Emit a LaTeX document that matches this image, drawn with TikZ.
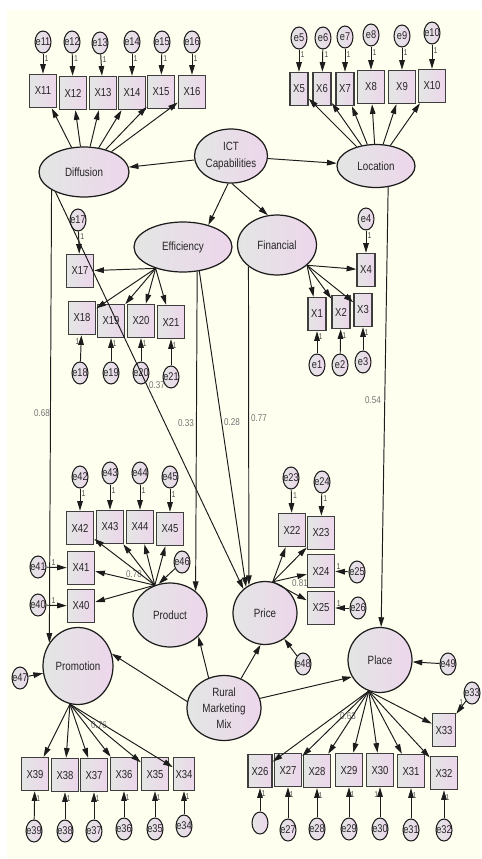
\documentclass[tikz,border=0pt]{standalone}
\usepackage{fontspec}
\setmainfont{Liberation Sans}[FakeStretch=0.82]
\usetikzlibrary{arrows.meta,shapes.geometric}
\definecolor{amosbg}{HTML}{FFFFF0}
\definecolor{amosL}{HTML}{E3E6E3}
\definecolor{amosR}{HTML}{EDD6EC}
\definecolor{amosln}{HTML}{1C1C1C}
\tikzstyle{lat}=[ellipse,draw=amosln,line width=0.7pt,left color=amosL,right color=amosR,inner sep=0pt,align=center,text=black!85,font=\fontsize{6.8}{9.2}\selectfont]
\tikzstyle{obs}=[rectangle,draw=amosln!85,line width=0.85pt,left color=amosL,right color=amosR,inner sep=0pt,minimum width=0.54cm,minimum height=0.66cm,text=black!85,font=\fontsize{6.6}{7}\selectfont]
\tikzstyle{nobs}=[obs,minimum width=0.36cm]
\tikzstyle{err}=[ellipse,draw=amosln,line width=0.6pt,left color=amosL,right color=amosR,inner xsep=-3pt,inner ysep=-1pt,minimum width=0.32cm,minimum height=0.44cm,text=black!85,font=\fontsize{6.4}{6.4}\selectfont]
\tikzstyle{reg}=[draw=amosln,line width=0.55pt,-{Triangle[length=5.5pt,width=3.2pt]}]
\tikzstyle{one}=[text=black!70,inner sep=0.7pt,font=\fontsize{4.8}{5}\selectfont]
\tikzstyle{coef}=[text=black!55,inner sep=0pt,font=\fontsize{5.6}{6}\selectfont]

\begin{document}
\begin{tikzpicture}[x=0.02cm,y=-0.02cm]
\useasboundingbox (0,0) rectangle (481,859);
\fill[white] (0,0) rectangle (481,859);
\fill[amosbg] (7,10) rectangle (481,859);

%coefficients
\node[coef] (c68) at (42,413) {0.68};
\node[coef] (c37) at (157,385) {0.37};
\node[coef] (c33) at (186,423) {0.33};
\node[coef] (c28) at (232,422) {0.28};
\node[coef] (c77) at (259,418) {0.77};
\node[coef] (c54) at (373,400) {0.54};
\node[coef] (c78) at (134,574) {0.78};
\node[coef] (c81) at (300,583) {0.81};
\node[coef] (c76) at (99,725) {0.76};
\node[coef] (c63) at (348,716) {0.63};

%latents
\node[lat,minimum width=1.8cm,minimum height=1cm] (Dif) at (84,172) {Diffusion};
\node[lat,minimum width=1.46cm,minimum height=1.08cm] (ICT) at (231,156) {ICT\\Capabilities};
\node[lat,minimum width=1.56cm,minimum height=0.86cm] (Loc) at (376,166) {Location};
\node[lat,minimum width=1.96cm,minimum height=1cm] (Eff) at (183,247) {Efficiency};
\node[lat,minimum width=1.58cm,minimum height=1.2cm] (Fin) at (277,245) {Financial};
\node[lat,minimum width=1.48cm,minimum height=1.28cm] (Prod) at (170,615) {Product};
\node[lat,minimum width=1.28cm,minimum height=1.26cm] (Pri) at (265,613) {Price};
\node[lat,minimum width=1.4cm,minimum height=1.54cm] (Prom) at (78,666) {Promotion};
\node[lat,minimum width=1.28cm,minimum height=1.3cm] (Pla) at (380,660) {Place};
\node[lat,minimum width=1.48cm,minimum height=1.3cm] (RMM) at (224,708) {Rural\\Marketing\\Mix};

%Diffusion indicators
\node[obs] (X11) at (43,91) {X11};
\node[obs] (X12) at (73,93) {X12};
\node[obs] (X13) at (103,93) {X13};
\node[obs] (X14) at (132,93) {X14};
\node[obs] (X15) at (161,92) {X15};
\node[obs] (X16) at (192,92) {X16};
\node[err] (E11) at (43,42) {e11};
\node[err] (E12) at (72,42) {e12};
\node[err] (E13) at (100,43) {e13};
\node[err] (E14) at (132,42) {e14};
\node[err] (E15) at (162,42) {e15};
\node[err] (E16) at (192,42) {e16};

%Location indicators
\node[nobs] (X5) at (299,89) {X5};
\node[nobs] (X6) at (322,89) {X6};
\node[nobs] (X7) at (345,89) {X7};
\node[obs] (X8) at (371,87) {X8};
\node[obs] (X9) at (402,87) {X9};
\node[obs] (X10) at (432,86) {X10};
\node[err] (E5) at (299,38) {e5};
\node[err] (E6) at (323,38) {e6};
\node[err] (E7) at (345,37) {e7};
\node[err] (E8) at (371,35) {e8};
\node[err] (E9) at (402,36) {e9};
\node[err] (E10) at (432,33) {e10};

%Efficiency indicators
\node[obs] (X17) at (80,271) {X17};
\node[obs] (X18) at (82,318) {X18};
\node[obs] (X19) at (111,321) {X19};
\node[obs] (X20) at (141,321) {X20};
\node[obs] (X21) at (171,322) {X21};
\node[err] (E17) at (78,220) {e17};
\node[err] (E18) at (80,373) {e18};
\node[err] (E19) at (111,373) {e19};
\node[err] (E20) at (141,373) {e20};
\node[err] (E21) at (171,377) {e21};

%Financial indicators
\node[nobs] (X4) at (366,270) {X4};
\node[nobs] (X1) at (317,314) {X1};
\node[nobs] (X2) at (341,312) {X2};
\node[nobs] (X3) at (363,310) {X3};
\node[err] (E4) at (366,219) {e4};
\node[err] (E1) at (317,365) {e1};
\node[err] (E2) at (340,365) {e2};
\node[err] (E3) at (363,362) {e3};

%Product indicators
\node[obs] (X42) at (80,528) {X42};
\node[obs] (X43) at (110,527) {X43};
\node[obs] (X44) at (140,527) {X44};
\node[obs] (X45) at (170,529) {X45};
\node[obs] (X41) at (81,568) {X41};
\node[obs] (X40) at (81,606) {X40};
\node[err] (E42) at (80,477) {e42};
\node[err] (E43) at (110,473) {e43};
\node[err] (E44) at (140,473) {e44};
\node[err] (E45) at (170,477) {e45};
\node[err] (E41) at (38,567) {e41};
\node[err] (E40) at (38,605) {e40};
\node[err] (E46) at (182,562) {e46};

%Price indicators
\node[obs] (X22) at (292,530) {X22};
\node[obs] (X23) at (321,533) {X23};
\node[obs] (X24) at (321,571) {X24};
\node[obs] (X25) at (321,608) {X25};
\node[err] (E23) at (291,478) {e23};
\node[err] (E24) at (322,482) {e24};
\node[err] (E25) at (357,572) {e25};
\node[err] (E26) at (358,608) {e26};
\node[err] (E48) at (303,664) {e48};

%Promotion indicators
\node[obs] (X39) at (35,774) {X39};
\node[obs] (X38) at (65,775) {X38};
\node[obs] (X37) at (94,775) {X37};
\node[obs] (X36) at (124,774) {X36};
\node[obs] (X35) at (155,774) {X35};
\node[obs,minimum width=0.42cm] (X34) at (184,774) {X34};
\node[err] (E39) at (34,831) {e39};
\node[err] (E38) at (65,831) {e38};
\node[err] (E37) at (94,831) {e37};
\node[err] (E36) at (124,829) {e36};
\node[err] (E35) at (155,829) {e35};
\node[err] (E34) at (184,826) {e34};
\node[err] (E47) at (20,678) {e47};

%Place indicators
\node[obs,minimum width=0.48cm] (X26) at (260,771) {X26};
\node[obs] (X27) at (288,770) {X27};
\node[obs] (X28) at (317,771) {X28};
\node[obs] (X29) at (349,770) {X29};
\node[obs] (X30) at (380,770) {X30};
\node[obs] (X31) at (411,771) {X31};
\node[obs] (X32) at (444,773) {X32};
\node[obs,minimum width=0.46cm] (X33) at (444,730) {X33};
\node[err] (E0) at (260,823) {};
\node[err] (E27) at (288,830) {e27};
\node[err] (E28) at (317,829) {e28};
\node[err] (E29) at (349,829) {e29};
\node[err] (E30) at (380,829) {e30};
\node[err] (E31) at (411,830) {e31};
\node[err] (E32) at (444,830) {e32};
\node[err] (E33) at (472,693) {e33};
\node[err] (E49) at (448,664) {e49};

%structural paths
\draw[reg] (ICT) -- (Dif);
\draw[reg] (ICT) -- (Loc);
\draw[reg] (ICT.264) -- (Eff.41);
\draw[reg] (ICT.272) -- (Fin.107);
\draw[reg] (Dif.209) -- (Prom.141);
\draw[reg] (Dif.215) -- (Pri.132);
\draw[reg] (Eff.300) -- (Prod.43);
\draw[reg] (Eff.304) -- (Pri.126);
\draw[reg] (Fin.217) -- (Pri.120);
\draw[reg] (Loc.300) -- (Pla.88);
\draw[reg] (RMM.170) -- (Prom.20);
\draw[reg] (RMM.117) -- (Prod.323);
\draw[reg] (RMM.60) -- (Pri.262);
\draw[reg] (RMM.15) -- (Pla.211);
\draw[reg] (E47) -- (Prom);
\draw[reg] (E46) -- (Prod.110);
\draw[reg] (E48) -- (Pri);
\draw[reg] (E49) -- (Pla);

%loadings
\draw[reg] (Dif) -- (X11);
\draw[reg] (Dif) -- (X12);
\draw[reg] (Dif) -- (X13);
\draw[reg] (Dif) -- (X14);
\draw[reg] (Dif) -- (X15);
\draw[reg] (Dif) -- (X16);
\draw[reg] (Loc) -- (X5);
\draw[reg] (Loc) -- (X6);
\draw[reg] (Loc) -- (X7);
\draw[reg] (Loc) -- (X8);
\draw[reg] (Loc) -- (X9);
\draw[reg] (Loc) -- (X10);
\draw[reg] (Eff.218) -- (X17);
\draw[reg] (Eff.218) -- (X18);
\draw[reg] (Eff.218) -- (X19);
\draw[reg] (Eff.218) -- (X20);
\draw[reg] (Eff.218) -- (X21);
\draw[reg] (Fin.326) -- (X4);
\draw[reg] (Fin.326) -- (X1);
\draw[reg] (Fin.326) -- (X2);
\draw[reg] (Fin.326) -- (X3);
\draw[reg] (Prod.117) -- (X42);
\draw[reg] (Prod.117) -- (X43);
\draw[reg] (Prod.117) -- (X44);
\draw[reg] (Prod.117) -- (X45);
\draw[reg] (Prod.117) -- (X41);
\draw[reg] (Prod.117) -- (X40);
\draw[reg] (Pri.76) -- (X22);
\draw[reg] (Pri.76) -- (X23);
\draw[reg] (Pri.76) -- (X24);
\draw[reg] (Pri.76) -- (X25);
\draw[reg] (Prom.258) -- (X39);
\draw[reg] (Prom.258) -- (X38);
\draw[reg] (Prom.258) -- (X37);
\draw[reg] (Prom.258) -- (X36);
\draw[reg] (Prom.258) -- (X35);
\draw[reg] (Prom.258) -- (X34);
\draw[reg] (Pla.250) -- (X26);
\draw[reg] (Pla.250) -- (X27);
\draw[reg] (Pla.250) -- (X28);
\draw[reg] (Pla.250) -- (X29);
\draw[reg] (Pla.250) -- (X30);
\draw[reg] (Pla.250) -- (X31);
\draw[reg] (Pla.250) -- (X32);
\draw[reg] (Pla.250) -- (X33);

%errors, top
\draw[reg] (E11) -- node[one,pos=0.25,right]{1} (X11);
\draw[reg] (E12) -- node[one,pos=0.25,right]{1} (X12);
\draw[reg] (E13) -- node[one,pos=0.25,right]{1} (X13);
\draw[reg] (E14) -- node[one,pos=0.25,right]{1} (X14);
\draw[reg] (E15) -- node[one,pos=0.25,right]{1} (X15);
\draw[reg] (E16) -- node[one,pos=0.25,right]{1} (X16);
\draw[reg] (E5) -- node[one,pos=0.25,right]{1} (X5);
\draw[reg] (E6) -- node[one,pos=0.25,right]{1} (X6);
\draw[reg] (E7) -- node[one,pos=0.25,right]{1} (X7);
\draw[reg] (E8) -- node[one,pos=0.25,right]{1} (X8);
\draw[reg] (E9) -- node[one,pos=0.25,right]{1} (X9);
\draw[reg] (E10) -- node[one,pos=0.25,right]{1} (X10);
\draw[reg] (E17) -- node[one,pos=0.25,right]{1} (X17);
\draw[reg] (E4) -- node[one,pos=0.25,right]{1} (X4);
\draw[reg] (E42) -- node[one,pos=0.25,right]{1} (X42);
\draw[reg] (E43) -- node[one,pos=0.25,right]{1} (X43);
\draw[reg] (E44) -- node[one,pos=0.25,right]{1} (X44);
\draw[reg] (E45) -- node[one,pos=0.25,right]{1} (X45);
\draw[reg] (E23) -- node[one,pos=0.25,right]{1} (X22);
\draw[reg] (E24) -- node[one,pos=0.25,right]{1} (X23);
%errors, bottom
\draw[reg] (E18) -- node[one,pos=0.75,left]{1} (X18);
\draw[reg] (E19) -- node[one,pos=0.75,right]{1} (X19);
\draw[reg] (E20) -- node[one,pos=0.75,right]{1} (X20);
\draw[reg] (E21) -- node[one,pos=0.75,right]{1} (X21);
\draw[reg] (E1) -- node[one,pos=0.75,right]{1} (X1);
\draw[reg] (E2) -- node[one,pos=0.75,right]{1} (X2);
\draw[reg] (E3) -- node[one,pos=0.75,right]{1} (X3);
\draw[reg] (E39) -- node[one,pos=0.75,right]{1} (X39);
\draw[reg] (E38) -- node[one,pos=0.75,right]{1} (X38);
\draw[reg] (E37) -- node[one,pos=0.75,right]{1} (X37);
\draw[reg] (E36) -- node[one,pos=0.75,right]{1} (X36);
\draw[reg] (E35) -- node[one,pos=0.75,right]{1} (X35);
\draw[reg] (E34) -- node[one,pos=0.75,right]{1} (X34);
\draw[reg] (E0) -- node[one,pos=0.75,right]{1} (X26);
\draw[reg] (E27) -- node[one,pos=0.75,right]{1} (X27);
\draw[reg] (E28) -- node[one,pos=0.75,right]{1} (X28);
\draw[reg] (E29) -- node[one,pos=0.75,right]{1} (X29);
\draw[reg] (E30) -- node[one,pos=0.75,left]{1} (X30);
\draw[reg] (E31) -- node[one,pos=0.75,right]{1} (X31);
\draw[reg] (E32) -- node[one,pos=0.75,right]{1} (X32);
%errors, sides
\draw[reg] (E41) -- node[one,pos=0.35,above]{1} (X41);
\draw[reg] (E40) -- node[one,pos=0.35,above]{1} (X40);
\draw[reg] (E25) -- node[one,pos=0.75,above]{1} (X24);
\draw[reg] (E26) -- node[one,pos=0.75,above]{1} (X25);
\draw[reg] (E33) -- node[one,pos=0.1,left]{1} (X33);
\end{tikzpicture}
\end{document}
